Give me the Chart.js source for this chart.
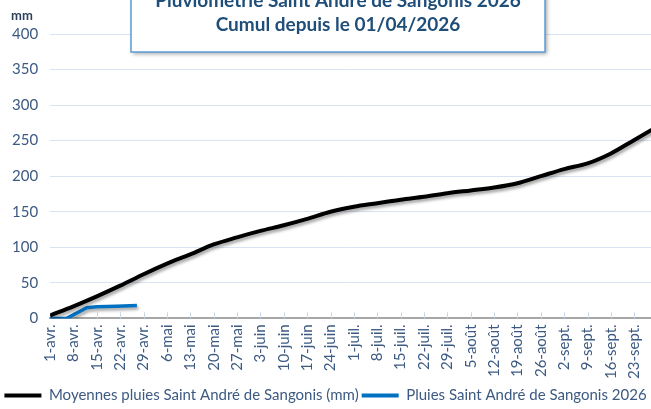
<!DOCTYPE html>
<html>
<head>
<meta charset="utf-8">
<script src="https://cdn.jsdelivr.net/npm/chart.js@4.4.1/dist/chart.umd.min.js"></script>
<style>
  html, body { margin: 0; padding: 0; background: #fff; }
  #wrap { width: 651px; height: 409px; position: relative; overflow: hidden; }
</style>
</head>
<body>
<div id="wrap"><canvas id="chart" width="651" height="409"></canvas></div>
<script>
// ===== DATA =====
const weekLabels = ['1-avr.', '8-avr.', '15-avr.', '22-avr.', '29-avr.', '6-mai', '13-mai', '20-mai', '27-mai',
  '3-juin', '10-juin', '17-juin', '24-juin', '1-juil.', '8-juil.', '15-juil.', '22-juil.', '29-juil.',
  '5-août', '12-août', '19-août', '26-août', '2-sept.', '9-sept.', '16-sept.', '23-sept.'];

// day index since 1 April
const moyDays = [0, 7, 14, 21, 28, 35, 42, 49, 56, 63, 70, 77, 84, 91, 98, 105, 112, 119, 126, 133, 140, 147, 154, 161, 168, 175, 182];
const moyValues = [4, 17, 31, 46, 62, 77, 90, 104, 114, 123, 131, 140, 150, 157, 162, 167, 171, 176, 180, 184, 190, 200, 210, 218, 232, 251, 270];

const rainDays = [0, 5, 11, 14, 20, 26];
const rainValues = [0, 0, 15, 16.5, 17, 18];

const titleLines = ['Pluviométrie Saint André de Sangonis 2026', 'Cumul depuis le 01/04/2026'];
const seriesNames = ['Moyennes pluies Saint André de Sangonis (mm)', 'Pluies Saint André de Sangonis 2026'];

const FONT = "Lato, sans-serif";
const TXT = '#3C5A82';

// ===== PLUGINS =====
const lineShadow = {
  id: 'lineShadow',
  beforeDatasetDraw(chart) {
    const c = chart.ctx;
    c.save();
    c.shadowColor = 'rgba(0,0,0,.35)';
    c.shadowBlur = 3;
    c.shadowOffsetX = 1.5;
    c.shadowOffsetY = 2.5;
  },
  afterDatasetDraw(chart) { chart.ctx.restore(); }
};

// small tick marks pointing up from the x axis
const innerTicks = {
  id: 'innerTicks',
  beforeDatasetsDraw(chart) {
    const c = chart.ctx, xs = chart.scales.x, b = chart.chartArea.bottom;
    c.save();
    c.strokeStyle = '#C9D6E8';
    c.lineWidth = 1;
    xs.ticks.forEach(t => {
      const px = Math.round(xs.getPixelForValue(t.value)) + 0.5;
      c.beginPath(); c.moveTo(px, b); c.lineTo(px, b - 6); c.stroke();
    });
    c.restore();
  }
};

const titleBox = {
  id: 'titleBox',
  afterDraw(chart) {
    const c = chart.ctx;
    const x = 131, w = 414, y = -12, h = 64;
    c.save();
    c.shadowColor = 'rgba(0,0,0,.35)';
    c.shadowBlur = 4; c.shadowOffsetX = 2; c.shadowOffsetY = 2;
    c.fillStyle = '#fff';
    c.fillRect(x, y, w, h);
    c.restore();
    c.save();
    c.strokeStyle = '#5B9BD5';
    c.lineWidth = 1.5;
    c.strokeRect(x, y, w, h);
    c.fillStyle = '#1F4E79';
    c.font = 'bold 19px ' + FONT;
    c.textAlign = 'center';
    c.textBaseline = 'middle';
    c.fillText(titleLines[0], x + w / 2, 1);
    c.fillText(titleLines[1], x + w / 2, 25);
    // unit label
    c.fillStyle = '#2E3F5C';
    c.font = 'bold 13px ' + FONT;
    c.fillText('mm', 22, 16);
    c.restore();
  }
};

// ===== CHART =====
new Chart(document.getElementById('chart'), {
  type: 'line',
  data: {
    datasets: [
      {
        label: seriesNames[0],
        data: moyDays.map((d, i) => ({ x: d, y: moyValues[i] })),
        borderColor: '#000', backgroundColor: '#000',
        borderWidth: 4, pointRadius: 0, cubicInterpolationMode: 'monotone'
      },
      {
        label: seriesNames[1],
        data: rainDays.map((d, i) => ({ x: d, y: rainValues[i] })),
        borderColor: '#0070C0', backgroundColor: '#0070C0',
        borderWidth: 3.5, pointRadius: 0, tension: 0
      }
    ]
  },
  options: {
    responsive: false,
    devicePixelRatio: 1,
    animation: false,
    layout: { padding: { top: 34, left: 0, right: 0, bottom: -4 } },
    plugins: {
      title: { display: false },
      tooltip: { enabled: false },
      legend: {
        position: 'bottom',
        labels: {
          boxWidth: 37, boxHeight: 4, padding: 3,
          color: TXT, font: { family: FONT, size: 15 },
          generateLabels(chart) {
            return Chart.defaults.plugins.legend.labels.generateLabels(chart).map(l => ({ ...l, lineWidth: 0 }));
          }
        }
      }
    },
    scales: {
      x: {
        type: 'linear', min: 0, max: 180,
        afterBuildTicks(s) { s.ticks = weekLabels.map((_, i) => ({ value: i * 7 })); },
        afterFit(s) { s.paddingRight = 0; },
        ticks: {
          autoSkip: false, maxRotation: 90, minRotation: 90, padding: 6,
          color: TXT, font: { family: FONT, size: 15 },
          callback: (v, i) => weekLabels[i]
        },
        grid: { drawOnChartArea: false, drawTicks: false },
        border: { display: true, color: '#A6A6A6', width: 2 }
      },
      y: {
        min: 0, max: 400,
        ticks: { stepSize: 50, padding: 12, color: TXT, font: { family: FONT, size: 15 } },
        grid: { color: '#D9E4F2', drawTicks: false },
        border: { display: false }
      }
    }
  },
  plugins: [lineShadow, innerTicks, titleBox]
});
</script>
</body>
</html>
